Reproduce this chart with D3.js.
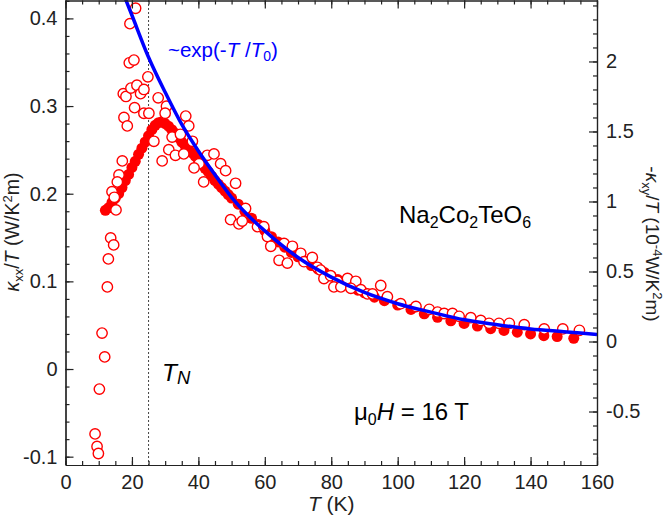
<!DOCTYPE html>
<html>
<head>
<meta charset="utf-8">
<script src="https://cdn.jsdelivr.net/npm/d3@7"></script>
<style>
  body { margin: 0; background: #fff; }
  svg text { font-family: "Liberation Sans", Arial, sans-serif; }
</style>
</head>
<body>
<div id="chart"></div>
<script>
// kxx/T, filled circles (left axis)
const filledT = [12, 13, 14, 15, 16, 17, 18, 19, 20, 21, 22, 23, 24, 25, 26, 27, 28, 29, 30,
  31, 32, 33, 34, 35, 36, 37, 38, 39, 40, 41, 42, 43, 44, 45, 46, 47, 48, 49, 50,
  52, 54, 56, 58, 60, 62, 64, 66, 68, 70, 72, 74, 76, 78, 80, 82, 84, 86, 88, 90,
  93, 96, 100, 104, 108, 112, 116, 120, 124, 128, 132, 136, 140, 144, 148, 153];
const filledK = [0.181, 0.184, 0.19, 0.195, 0.2, 0.207, 0.215, 0.222, 0.23, 0.237, 0.245, 0.252, 0.259, 0.266, 0.273, 0.278, 0.281, 0.282, 0.28,
  0.277, 0.273, 0.269, 0.264, 0.259, 0.255, 0.251, 0.247, 0.243, 0.239, 0.234, 0.229, 0.225, 0.22, 0.215, 0.211, 0.207, 0.203, 0.199, 0.195,
  0.188, 0.18, 0.172, 0.165, 0.158, 0.151, 0.145, 0.139, 0.133, 0.128, 0.123, 0.118, 0.114, 0.11, 0.106, 0.102, 0.098, 0.094, 0.09, 0.087,
  0.082, 0.078, 0.073, 0.068, 0.063, 0.059, 0.055, 0.052, 0.049, 0.046, 0.044, 0.042, 0.04, 0.038, 0.037, 0.035];

// -kxy/T, open circles (right axis)
const hollowT = [21.1, 19.4, 19.2, 20.6, 24.8, 17.4, 18.2, 19.7, 21.5, 22.6, 23.6, 27.9, 30.4, 20.8, 23.6, 25.1,
  30.0, 17.6, 18.6, 36.2, 37.1, 32.1, 34.6, 26.6, 31.1, 33.1, 35.6, 38.2, 29.1, 17.1, 40.2, 42.7, 44.7, 46.7,
  38.7, 48.2, 41.6, 51.2, 16.1, 15.6, 14.0, 14.7, 15.2, 13.6, 14.5, 12.9, 12.6, 11.0, 11.8, 10.2, 8.9, 9.5, 9.9,
  49.7, 52.2, 53.2, 54.2, 57.8, 59.7, 60.8, 61.8, 64.3, 66.8, 65.8, 68.3, 70.8, 71.8, 74.3, 75.8, 76.8, 77.8,
  79.8, 81.9, 80.8, 82.9, 84.9, 87.4, 85.9, 88.9, 90.9, 92.4, 94.9, 96.9, 100.9, 105.5, 109.5, 112.0, 114.0,
  116.5, 118.5, 122.0, 125.0, 127.5, 130.5, 133.6, 138.1, 144.1, 149.7, 154.7];
const hollowK = [2.38, 2.27, 1.99, 2.01, 1.89, 1.77, 1.75, 1.81, 1.83, 1.77, 1.80, 1.74, 1.68, 1.67, 1.63, 1.63,
  1.63, 1.60, 1.54, 1.61, 1.54, 1.46, 1.48, 1.43, 1.37, 1.33, 1.34, 1.43, 1.29, 1.29, 1.27, 1.33, 1.34, 1.27,
  1.24, 1.22, 1.14, 1.13, 1.19, 1.14, 1.07, 1.03, 0.94, 0.74, 0.69, 0.59, 0.39, 0.06, -0.11, -0.34, -0.66, -0.75, -0.80,
  0.87, 0.84, 0.86, 0.95, 0.82, 0.82, 0.75, 0.68, 0.58, 0.56, 0.70, 0.68, 0.63, 0.57, 0.60, 0.53, 0.51, 0.45,
  0.47, 0.43, 0.39, 0.39, 0.45, 0.43, 0.38, 0.37, 0.34, 0.34, 0.40, 0.32, 0.27, 0.25, 0.23, 0.21, 0.20,
  0.20, 0.18, 0.17, 0.15, 0.13, 0.13, 0.13, 0.12, 0.09, 0.09, 0.08];

// fit curve ~exp(-T/T0) (right axis)
const fitT = [18, 20, 25, 30, 35, 40, 45, 50, 55, 60, 70, 80, 90, 100, 110, 120, 130, 140, 150, 160];
const fitK = [2.45, 2.33, 2.03, 1.78, 1.55, 1.36, 1.19, 1.03, 0.9, 0.79, 0.6, 0.46, 0.35, 0.27, 0.21, 0.155, 0.12, 0.09, 0.07, 0.05];

const xTicks = [0, 20, 40, 60, 80, 100, 120, 140, 160];
const leftTicks = [-0.1, 0, 0.1, 0.2, 0.3, 0.4];
const leftLabels = ["-0.1", "0", "0.1", "0.2", "0.3", "0.4"];
const rightTicks = [-0.5, 0, 0.5, 1, 1.5, 2];
const rightLabels = ["-0.5", "0", "0.5", "1", "1.5", "2"];
const T_N = 25;

const width = 664, height = 516;
const plot = { left: 65.5, right: 597, top: 0, bottom: 465 };

const svg = d3.select("#chart").append("svg")
  .attr("width", width)
  .attr("height", height);

const x = d3.scaleLinear().domain([0, 160]).range([plot.left, plot.right]);
const yL = d3.scaleLinear().domain([-0.1095, 0.421]).range([plot.bottom, plot.top]);
const yR = d3.scaleLinear().domain([-0.882, 2.439]).range([plot.bottom, plot.top]);

svg.append("clipPath").attr("id", "clip")
  .append("rect")
  .attr("x", plot.left).attr("y", plot.top)
  .attr("width", plot.right - plot.left).attr("height", plot.bottom - plot.top);

const inner = svg.append("g").attr("clip-path", "url(#clip)");

// T_N marker
inner.append("line")
  .attr("x1", x(T_N)).attr("x2", x(T_N))
  .attr("y1", plot.top).attr("y2", plot.bottom)
  .attr("stroke", "#444")
  .attr("stroke-width", 1)
  .attr("stroke-dasharray", "2,2");

// filled circles
inner.selectAll(".filled")
  .data(filledT.map((t, i) => ({ t: t, k: filledK[i] })))
  .enter().append("circle")
  .attr("class", "filled")
  .attr("cx", d => x(d.t))
  .attr("cy", d => yL(d.k))
  .attr("r", 5.5)
  .attr("fill", "#ff0000");

// open circles
inner.selectAll(".hollow")
  .data(hollowT.map((t, i) => ({ t: t, k: hollowK[i] })))
  .enter().append("circle")
  .attr("class", "hollow")
  .attr("cx", d => x(d.t))
  .attr("cy", d => yR(d.k))
  .attr("r", 5.2)
  .attr("fill", "#fff")
  .attr("stroke", "#ff0000")
  .attr("stroke-width", 1.4);

// fit line
const fitLine = d3.line()
  .x(d => x(d.t))
  .y(d => yR(d.k))
  .curve(d3.curveMonotoneX);

inner.append("path")
  .datum(fitT.map((t, i) => ({ t: t, k: fitK[i] })))
  .attr("fill", "none")
  .attr("stroke", "#0000ff")
  .attr("stroke-width", 3.5)
  .attr("d", fitLine);

// axes (ticks point inward)
const axisColor = "#222";
function styleAxis(g) {
  g.selectAll("path").attr("stroke", axisColor).attr("stroke-width", 1.2);
  g.selectAll("line").attr("stroke", axisColor).attr("stroke-width", 1.2);
  g.selectAll("text").attr("fill", "#222").style("font-size", "20px")
    .style("font-family", "'Liberation Sans', Arial, sans-serif");
}

const xMinor = d3.range(0, 161, 5);
const leftMinor = d3.range(-0.1, 0.421, 0.02);
const rightMinor = d3.range(-0.8, 2.44, 0.1);

// bottom
svg.append("g")
  .attr("transform", `translate(0,${plot.bottom})`)
  .call(d3.axisBottom(x).tickValues(xMinor).tickSizeInner(-4).tickSizeOuter(0).tickFormat(""))
  .call(styleAxis);
svg.append("g")
  .attr("transform", `translate(0,${plot.bottom})`)
  .call(d3.axisBottom(x).tickValues(xTicks).tickSizeInner(-8).tickSizeOuter(0).tickPadding(10).tickFormat(d3.format("d")))
  .call(styleAxis);

// top
svg.append("g")
  .attr("transform", `translate(0,${plot.top + 0.5})`)
  .call(d3.axisTop(x).tickValues(xMinor).tickSizeInner(-4).tickSizeOuter(0).tickFormat(""))
  .call(styleAxis);
svg.append("g")
  .attr("transform", `translate(0,${plot.top + 0.5})`)
  .call(d3.axisTop(x).tickValues(xTicks).tickSizeInner(-8).tickSizeOuter(0).tickFormat(""))
  .call(styleAxis);

// left
svg.append("g")
  .attr("transform", `translate(${plot.left},0)`)
  .call(d3.axisLeft(yL).tickValues(leftMinor).tickSizeInner(-4).tickSizeOuter(0).tickFormat(""))
  .call(styleAxis);
svg.append("g")
  .attr("transform", `translate(${plot.left},0)`)
  .call(d3.axisLeft(yL).tickValues(leftTicks).tickSizeInner(-8).tickSizeOuter(0).tickPadding(8)
    .tickFormat((d, i) => leftLabels[i]))
  .call(styleAxis);

// right
svg.append("g")
  .attr("transform", `translate(${plot.right},0)`)
  .call(d3.axisRight(yR).tickValues(rightMinor).tickSizeInner(-4).tickSizeOuter(0).tickFormat(""))
  .call(styleAxis);
svg.append("g")
  .attr("transform", `translate(${plot.right},0)`)
  .call(d3.axisRight(yR).tickValues(rightTicks).tickSizeInner(-8).tickSizeOuter(0).tickPadding(9)
    .tickFormat((d, i) => rightLabels[i]))
  .call(styleAxis);

// axis titles
const xLabel = svg.append("text")
  .attr("x", (plot.left + plot.right) / 2)
  .attr("y", 511)
  .attr("text-anchor", "middle")
  .style("font-size", "21px")
  .attr("fill", "#222");
xLabel.append("tspan").style("font-style", "italic").text("T");
xLabel.append("tspan").text(" (K)");

const yLeftLabel = svg.append("text")
  .attr("transform", "translate(19,232) rotate(-90)")
  .attr("text-anchor", "middle")
  .style("font-size", "19.5px")
  .attr("fill", "#222");
yLeftLabel.append("tspan").style("font-style", "italic").text("κ");
yLeftLabel.append("tspan").attr("dy", 4).style("font-size", "13px").text("xx");
yLeftLabel.append("tspan").attr("dy", -4).text("/");
yLeftLabel.append("tspan").style("font-style", "italic").text("T");
yLeftLabel.append("tspan").text(" (W/K");
yLeftLabel.append("tspan").attr("dy", -7).style("font-size", "13px").text("2");
yLeftLabel.append("tspan").attr("dy", 7).text("m)");

const yRightLabel = svg.append("text")
  .attr("transform", "translate(646,244) rotate(90)")
  .attr("text-anchor", "middle")
  .style("font-size", "19px")
  .attr("fill", "#222");
yRightLabel.append("tspan").text("-");
yRightLabel.append("tspan").style("font-style", "italic").text("κ");
yRightLabel.append("tspan").attr("dy", 4).style("font-size", "13px").text("xy");
yRightLabel.append("tspan").attr("dy", -4).text("/");
yRightLabel.append("tspan").style("font-style", "italic").text("T");
yRightLabel.append("tspan").text(" (10");
yRightLabel.append("tspan").attr("dy", -7).style("font-size", "13px").text("-4");
yRightLabel.append("tspan").attr("dy", 7).text("W/K");
yRightLabel.append("tspan").attr("dy", -7).style("font-size", "13px").text("2");
yRightLabel.append("tspan").attr("dy", 7).text("m)");

// annotations
const fitLabel = svg.append("text")
  .attr("x", 168).attr("y", 57)
  .style("font-size", "20.5px")
  .attr("fill", "#0000ff");
fitLabel.append("tspan").text("~exp(-");
fitLabel.append("tspan").style("font-style", "italic").text("T");
fitLabel.append("tspan").text(" /");
fitLabel.append("tspan").style("font-style", "italic").text("T");
fitLabel.append("tspan").attr("dy", 4).style("font-size", "14px").text("0");
fitLabel.append("tspan").attr("dy", -4).text(")");

const formula = svg.append("text")
  .attr("x", 399).attr("y", 223)
  .style("font-size", "24px")
  .attr("fill", "#000");
[["Na", 0], ["2", 1], ["Co", 0], ["2", 1], ["TeO", 0], ["6", 1]].forEach(([s, sub], i, arr) => {
  const prevSub = i > 0 && arr[i - 1][1];
  formula.append("tspan")
    .attr("dy", sub ? 5 : (prevSub ? -5 : 0))
    .style("font-size", sub ? "16px" : "24px")
    .text(s);
});

const tn = svg.append("text")
  .attr("x", 162).attr("y", 381)
  .style("font-size", "24.5px")
  .style("font-style", "italic")
  .attr("fill", "#000");
tn.append("tspan").text("T");
tn.append("tspan").attr("dy", 3).style("font-size", "18.5px").text("N");

const field = svg.append("text")
  .attr("x", 354).attr("y", 420)
  .style("font-size", "24px")
  .attr("fill", "#000");
field.append("tspan").text("μ");
field.append("tspan").attr("dy", 5).style("font-size", "16px").text("0");
field.append("tspan").attr("dy", -5).style("font-style", "italic").text("H");
field.append("tspan").text(" = 16 T");
</script>
</body>
</html>
